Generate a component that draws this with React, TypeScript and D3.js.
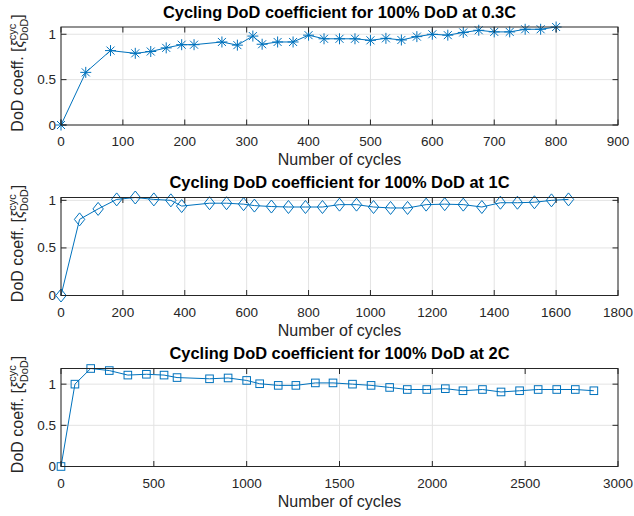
import React from "react";
import * as d3 from "d3";

const p1X = [0, 40, 80, 120, 145, 170, 195, 215, 260, 285, 310, 325, 350, 375, 400, 425, 450, 475, 500, 525, 550, 575, 600, 625, 650, 675, 700, 725, 750, 775, 800];
const p1Y = [0, 0.58, 0.82, 0.79, 0.81, 0.85, 0.885, 0.885, 0.915, 0.88, 0.98, 0.89, 0.915, 0.915, 0.99, 0.95, 0.95, 0.95, 0.933, 0.955, 0.937, 0.974, 1.0, 0.99, 1.02, 1.044, 1.026, 1.026, 1.055, 1.055, 1.08];

const p2X = [0, 60, 120, 180, 240, 300, 355, 390, 480, 535, 590, 625, 680, 735, 790, 845, 900, 955, 1010, 1065, 1120, 1180, 1240, 1300, 1360, 1420, 1475, 1530, 1585, 1640];
const p2Y = [0, 0.8, 0.91, 1.01, 1.03, 1.01, 1.0, 0.94, 0.97, 0.97, 0.96, 0.945, 0.935, 0.93, 0.93, 0.93, 0.955, 0.955, 0.93, 0.92, 0.92, 0.955, 0.96, 0.955, 0.93, 0.975, 0.975, 0.98, 1.0, 1.01];

const p3X = [0, 75, 160, 260, 360, 460, 555, 625, 800, 900, 1000, 1070, 1170, 1265, 1370, 1465, 1570, 1670, 1770, 1865, 1970, 2070, 2165, 2270, 2370, 2470, 2570, 2670, 2770, 2870];
const p3Y = [0, 1.0, 1.19, 1.165, 1.11, 1.12, 1.11, 1.08, 1.065, 1.075, 1.045, 1.005, 0.985, 0.985, 1.015, 1.015, 1.0, 0.985, 0.96, 0.935, 0.935, 0.945, 0.92, 0.935, 0.905, 0.92, 0.935, 0.935, 0.935, 0.92];

const titles = [
  "Cycling DoD coefficient for 100% DoD at 0.3C",
  "Cycling DoD coefficient for 100% DoD at 1C",
  "Cycling DoD coefficient for 100% DoD at 2C",
];
const titleWidths = [353, 340, 340];
const xTicks1 = [0, 100, 200, 300, 400, 500, 600, 700, 800, 900];
const xTicks2 = [0, 200, 400, 600, 800, 1000, 1200, 1400, 1600, 1800];
const xTicks3 = [0, 500, 1000, 1500, 2000, 2500, 3000];
const yTicks = [0, 0.5, 1];
const xLabel = "Number of cycles";

const COLOR = "#0072BD";
const AX = "#262626";
const GRID = "#e3e3e3";
const FONT = "Liberation Sans, Arial, Helvetica, sans-serif";

const LEFT = 61;
const RIGHT = 618;
const H = 98;

type PanelProps = {
  top: number;
  xs: number[];
  ys: number[];
  xMax: number;
  yMax: number;
  xTicks: number[];
  title: string;
  titleW: number;
  marker: "star" | "diamond" | "square";
};

function Marker({ kind, x, y }: { kind: string; x: number; y: number }) {
  if (kind === "star") {
    const r = 5.5;
    const d = 4;
    return (
      <g stroke={COLOR} strokeWidth={1} fill="none">
        <line x1={x - r} y1={y} x2={x + r} y2={y} />
        <line x1={x} y1={y - r} x2={x} y2={y + r} />
        <line x1={x - d} y1={y - d} x2={x + d} y2={y + d} />
        <line x1={x - d} y1={y + d} x2={x + d} y2={y - d} />
      </g>
    );
  }
  if (kind === "diamond") {
    const w = 5.2;
    const h = 6.5;
    return (
      <path
        d={`M${x},${y - h}L${x + w},${y}L${x},${y + h}L${x - w},${y}Z`}
        stroke={COLOR}
        strokeWidth={1}
        fill="none"
      />
    );
  }
  const s = 3.8;
  return <rect x={x - s} y={y - s} width={2 * s} height={2 * s} stroke={COLOR} strokeWidth={1} fill="none" />;
}

function Panel({ top, xs, ys, xMax, yMax, xTicks, title, titleW, marker }: PanelProps) {
  const x = d3.scaleLinear().domain([0, xMax]).range([LEFT, RIGHT]);
  const y = d3.scaleLinear().domain([0, yMax]).range([top + H, top]);
  const pts: [number, number][] = xs.map((v, i) => [x(v), y(ys[i])]);
  const line = d3.line()(pts) || "";
  const tl = 5.5;
  const bottom = top + H;
  const midY = top + H / 2;
  return (
    <g>
      {xTicks.map((t) => (
        <line key={"gx" + t} x1={x(t)} x2={x(t)} y1={top} y2={bottom} stroke={GRID} strokeWidth={1} />
      ))}
      {yTicks.map((t) => (
        <line key={"gy" + t} x1={LEFT} x2={RIGHT} y1={y(t)} y2={y(t)} stroke={GRID} strokeWidth={1} />
      ))}
      <path d={line} stroke={COLOR} strokeWidth={1} fill="none" />
      {pts.map((p, i) => (
        <Marker key={i} kind={marker} x={p[0]} y={p[1]} />
      ))}
      <rect x={LEFT} y={top} width={RIGHT - LEFT} height={H} fill="none" stroke={AX} strokeWidth={1} />
      {xTicks.map((t) => (
        <g key={"tx" + t}>
          <line x1={x(t)} x2={x(t)} y1={bottom} y2={bottom - tl} stroke={AX} />
          <line x1={x(t)} x2={x(t)} y1={top} y2={top + tl} stroke={AX} />
          <text x={x(t)} y={bottom + 21} textAnchor="middle" fontSize={13.5} fill={AX} fontFamily={FONT}>
            {t}
          </text>
        </g>
      ))}
      {yTicks.map((t) => (
        <g key={"ty" + t}>
          <line x1={LEFT} x2={LEFT + tl} y1={y(t)} y2={y(t)} stroke={AX} />
          <line x1={RIGHT} x2={RIGHT - tl} y1={y(t)} y2={y(t)} stroke={AX} />
          <text x={LEFT - 5} y={y(t) + 4.5} textAnchor="end" fontSize={13.5} fill={AX} fontFamily={FONT}>
            {t}
          </text>
        </g>
      ))}
      <text
        x={(LEFT + RIGHT) / 2}
        y={top - 9.5}
        textAnchor="middle"
        fontSize={16}
        fontWeight="bold"
        fill="#000"
        fontFamily={FONT}
        textLength={titleW}
        lengthAdjust="spacingAndGlyphs"
      >
        {title}
      </text>
      <text x={(LEFT + RIGHT) / 2} y={bottom + 40} textAnchor="middle" fontSize={16} fill={AX} fontFamily={FONT}>
        {xLabel}
      </text>
      <text transform={`translate(23,${midY - 3}) rotate(-90)`} textAnchor="middle" fontSize={16} fill={AX} fontFamily={FONT}>
        <tspan>DoD coeff. [</tspan>
        <tspan fontStyle="italic">ξ</tspan>
        <tspan fontSize={11} dy={-7}>cyc</tspan>
        <tspan fontSize={11} dx={-17} dy={12}>DoD</tspan>
        <tspan dy={-5}>]</tspan>
      </text>
    </g>
  );
}

export default function App() {
  return (
    <svg width={634} height={516} style={{ position: "absolute", left: 0, top: 0, background: "#fff" }}>
      <rect width={634} height={516} fill="#fff" />
      <Panel top={27} xs={p1X} ys={p1Y} xMax={900} yMax={1.08} xTicks={xTicks1} title={titles[0]} titleW={titleWidths[0]} marker="star" />
      <Panel top={197.5} xs={p2X} ys={p2Y} xMax={1800} yMax={1.03} xTicks={xTicks2} title={titles[1]} titleW={titleWidths[1]} marker="diamond" />
      <Panel top={368.5} xs={p3X} ys={p3Y} xMax={3000} yMax={1.19} xTicks={xTicks3} title={titles[2]} titleW={titleWidths[2]} marker="square" />
    </svg>
  );
}
